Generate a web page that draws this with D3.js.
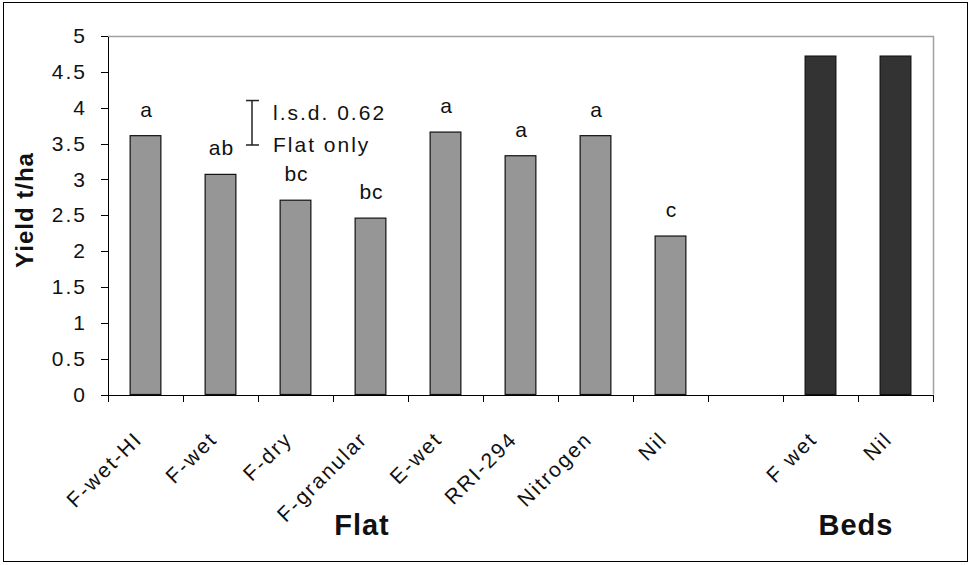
<!DOCTYPE html>
<html lang="en">
<head>
<meta charset="UTF-8">
<title>Yield t/ha</title>
<script src="https://cdn.jsdelivr.net/npm/d3@7"></script>
<style>
    body { margin: 0; background: #fff; }
    text { font-family: "Liberation Sans", Arial, sans-serif; fill: #111; }
    .axis path, .axis line { stroke: #000; shape-rendering: crispEdges; }
</style>
</head>
<body>
<div id="chart"></div>
<script>
    // data
    var categories = ["F-wet-HI", "F-wet", "F-dry", "F-granular", "E-wet", "RRI-294", "Nitrogen", "Nil", "", "F wet", "Nil"];
    var yields = [3.61, 3.07, 2.71, 2.46, 3.66, 3.33, 3.61, 2.21, null, 4.72, 4.72];
    var groups = ["Flat", "Flat", "Flat", "Flat", "Flat", "Flat", "Flat", "Flat", "", "Beds", "Beds"];
    var letters = ["a", "ab", "bc", "bc", "a", "a", "a", "c", "", "", ""];
    var yTicks = [0, 0.5, 1, 1.5, 2, 2.5, 3, 3.5, 4, 4.5, 5];
    var lsd = 0.62, lsdBase = 3.48;

    var width = 971, height = 565;
    var plotLeft = 108, plotRight = 933, plotTop = 36, plotBottom = 394.5;

    var svg = d3.select("#chart").append("svg")
        .attr("width", width)
        .attr("height", height);

    // outer frame
    svg.append("rect")
        .attr("x", 3.5).attr("y", 2.5)
        .attr("width", 964).attr("height", 559)
        .attr("fill", "none").attr("stroke", "#000");

    var x = d3.scaleBand().domain(d3.range(categories.length)).range([plotLeft, plotRight]).padding(0),
        xEdge = d3.scaleLinear().domain([0, categories.length]).range([plotLeft, plotRight]),
        y = d3.scaleLinear().domain([0, 5]).range([plotBottom, plotTop]);

    var barW = x.bandwidth() * 0.41;

    // plot area border (top + right, gray)
    svg.append("path")
        .attr("d", "M" + plotLeft + "," + (plotTop + 0.5) + "H" + (plotRight + 0.5) + "V" + plotBottom)
        .attr("fill", "none").attr("stroke", "#a0a0a0").attr("stroke-width", 1.5);

    // bars
    svg.append("g").selectAll("rect")
        .data(yields.map(function(v, i) { return {i: i, v: v, g: groups[i]}; }).filter(function(d) { return d.v != null; }))
        .enter().append("rect")
        .attr("x", function(d) { return x(d.i) + (x.bandwidth() - barW) / 2; })
        .attr("y", function(d) { return y(d.v); })
        .attr("width", barW)
        .attr("height", function(d) { return y(0) - y(d.v); })
        .attr("fill", function(d) { return d.g == "Beds" ? "#333333" : "#969696"; })
        .attr("stroke", "#111")
        .attr("stroke-width", 1.2);

    // y axis
    svg.append("g")
        .attr("class", "axis")
        .attr("transform", "translate(" + plotLeft + ",0)")
        .call(d3.axisLeft(y).tickValues(yTicks).tickSize(7).tickSizeOuter(0).tickPadding(14)
            .tickFormat(function(d) { return d; }))
        .selectAll("text")
        .style("font-size", "21px")
        .style("letter-spacing", "2px");

    // x axis, ticks on band edges
    svg.append("g")
        .attr("class", "axis")
        .attr("transform", "translate(0," + plotBottom + ")")
        .call(d3.axisBottom(xEdge).tickValues(d3.range(categories.length + 1)).tickSize(7).tickSizeOuter(0)
            .tickFormat(""));

    svg.selectAll(".axis").attr("font-family", null).attr("font-size", null);

    // category labels
    svg.append("g").selectAll("text")
        .data(categories)
        .enter().append("text")
        .attr("text-anchor", "end")
        .attr("transform", function(d, i) {
            return "translate(" + (x(i) + x.bandwidth() / 2 - 2) + "," + (plotBottom + 46) + ") rotate(-45)";
        })
        .style("font-size", "21px")
        .style("letter-spacing", "2px")
        .text(function(d) { return d; });

    // significance letters
    svg.append("g").selectAll("text")
        .data(letters)
        .enter().append("text")
        .attr("text-anchor", "middle")
        .attr("x", function(d, i) { return x(i) + x.bandwidth() / 2 + 1; })
        .attr("y", function(d, i) { return yields[i] == null ? 0 : y(yields[i]) - 19; })
        .style("font-size", "21px")
        .style("letter-spacing", "1px")
        .text(function(d) { return d; });

    // l.s.d. bar
    var lx = x(1) + x.bandwidth() * 0.92;
    var lsdG = svg.append("g").attr("stroke", "#222").attr("stroke-width", 1.5);
    lsdG.append("line").attr("x1", lx).attr("x2", lx).attr("y1", y(lsdBase)).attr("y2", y(lsdBase + lsd));
    lsdG.append("line").attr("x1", lx - 6).attr("x2", lx + 7).attr("y1", y(lsdBase)).attr("y2", y(lsdBase));
    lsdG.append("line").attr("x1", lx - 6).attr("x2", lx + 7).attr("y1", y(lsdBase + lsd)).attr("y2", y(lsdBase + lsd));

    svg.append("text")
        .attr("x", lx + 21).attr("y", y(lsdBase + lsd) + 19)
        .style("font-size", "21px").style("letter-spacing", "2px")
        .text("l.s.d. " + lsd);
    svg.append("text")
        .attr("x", lx + 21).attr("y", y(lsdBase) + 7)
        .style("font-size", "21px").style("letter-spacing", "2px")
        .text("Flat only");

    // axis title
    svg.append("text")
        .attr("transform", "translate(33,210) rotate(-90)")
        .attr("text-anchor", "middle")
        .style("font-size", "24px").style("font-weight", "bold").style("letter-spacing", "1px")
        .text("Yield t/ha");

    // group labels
    svg.append("text")
        .attr("x", 362).attr("y", 535)
        .attr("text-anchor", "middle")
        .style("font-size", "29px").style("font-weight", "bold").style("letter-spacing", "1px")
        .text("Flat");
    svg.append("text")
        .attr("x", 856).attr("y", 535)
        .attr("text-anchor", "middle")
        .style("font-size", "29px").style("font-weight", "bold").style("letter-spacing", "1px")
        .text("Beds");
</script>
</body>
</html>
